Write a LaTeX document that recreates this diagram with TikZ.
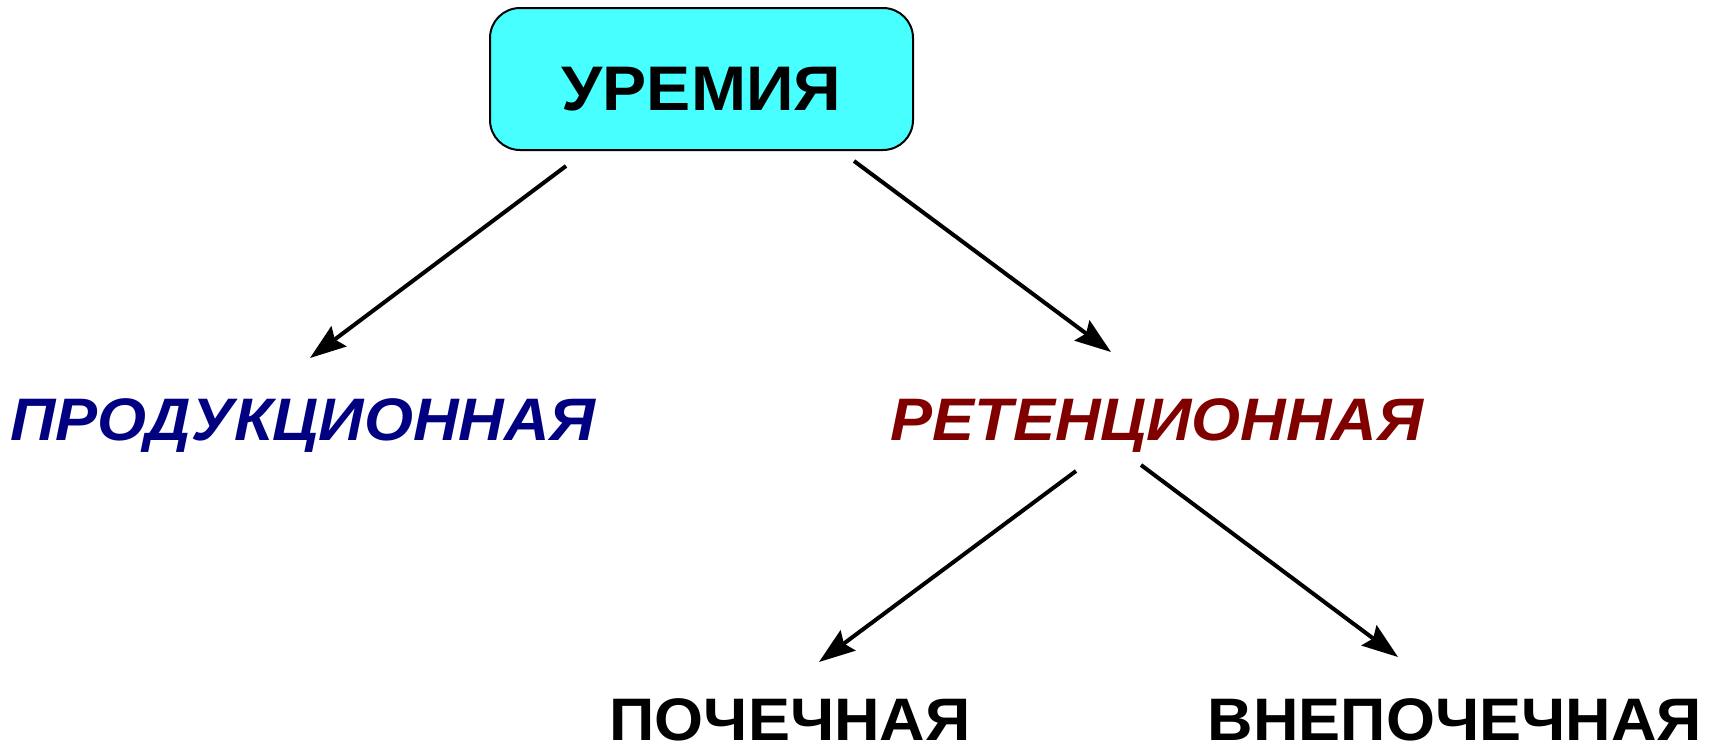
\documentclass[tikz,border=0pt]{standalone}
\usepackage{fontspec}
\setmainfont{Liberation Sans}
\newfontfamily\lblfont{Liberation Sans}[FakeStretch=1.05]
\usetikzlibrary{arrows.meta}
\definecolor{boxcyan}{HTML}{48FFFF}
\definecolor{navy}{HTML}{000080}
\definecolor{maroon}{HTML}{800000}
\tikzset{
  arr/.style={line width=4pt, -{Stealth[length=36pt,width=25pt,inset=5pt]}},
  lbl/.style={inner sep=0pt, anchor=base, text depth=0pt, font=\lblfont\fontsize{60}{60}\selectfont\bfseries},
  ilbl/.style={lbl, font=\lblfont\fontsize{60}{60}\selectfont\bfseries\itshape},
  topbox/.style={draw=black, line width=2pt, fill=boxcyan, rounded corners=30pt,
    minimum width=423pt, minimum height=142pt, inner sep=0pt, text height=62pt, text depth=0pt,
    font=\lblfont\fontsize{63}{63}\selectfont\bfseries}
}
\begin{document}
\begin{tikzpicture}[x=1pt,y=-1pt]
\useasboundingbox (0,0) rectangle (1716,745);
\node[topbox] (top) at (701.5,79) {УРЕМИЯ};
\node[ilbl, text=navy] (prod) at (303,440) {ПРОДУКЦИОННАЯ};
\node[ilbl, text=maroon] (ret) at (1157,440) {РЕТЕНЦИОННАЯ};
\node[lbl] (poch) at (790,740) {ПОЧЕЧНАЯ};
\node[lbl] (vnep) at (1455,740) {ВНЕПОЧЕЧНАЯ};
\coordinate (a1s) at (566,166); \coordinate (a1e) at (310,358);
\coordinate (a2s) at (854,161); \coordinate (a2e) at (1111,352);
\coordinate (a3s) at (1076,471); \coordinate (a3e) at (819,662);
\coordinate (a4s) at (1141,465); \coordinate (a4e) at (1398,657);
\draw[arr] (a1s) -- (a1e);
\draw[arr] (a2s) -- (a2e);
\draw[arr] (a3s) -- (a3e);
\draw[arr] (a4s) -- (a4e);
\end{tikzpicture}
\end{document}
